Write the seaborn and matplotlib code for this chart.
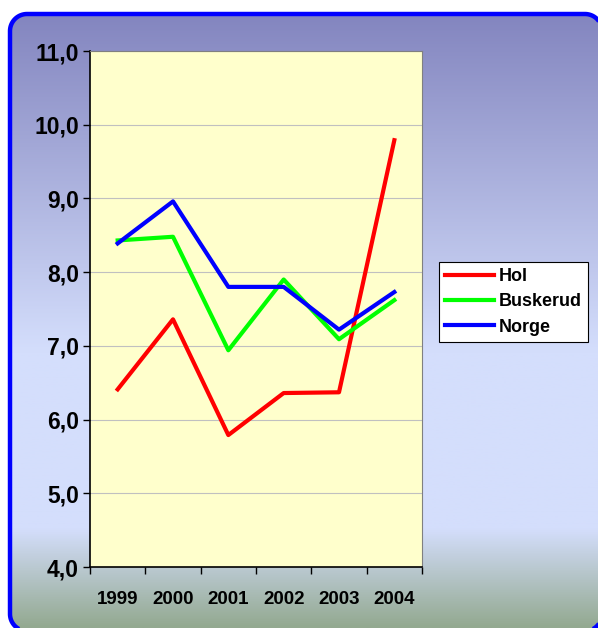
import numpy as np
import pandas as pd
import seaborn as sns
import matplotlib.pyplot as plt
from matplotlib.colors import LinearSegmentedColormap
from matplotlib.patches import Polygon
from matplotlib.ticker import FuncFormatter, FixedLocator

# Chart data
years = ["1999", "2000", "2001", "2002", "2003", "2004"]
hol = [6.41, 7.36, 5.79, 6.36, 6.37, 9.79]
buskerud = [8.43, 8.48, 6.94, 7.90, 7.09, 7.62]
norge = [8.39, 8.96, 7.80, 7.80, 7.22, 7.73]
series_names = ["Hol", "Buskerud", "Norge"]
colors = {"Hol": "#FF0000", "Buskerud": "#00FF00", "Norge": "#0000FF"}

plt.rcParams["font.family"] = ["Liberation Sans", "DejaVu Sans"]
plt.rcParams["font.weight"] = "bold"

# Long form dataframe for seaborn
rows = []
for name, vals in zip(series_names, [hol, buskerud, norge]):
    for i, v in enumerate(vals):
        rows.append({"idx": i, "year": years[i], "value": v, "series": name})
df = pd.DataFrame(rows)


def rounded_rect(x0, y0, x1, y1, r, n=24):
    # outline of a rounded rectangle, pixel coords with y up
    pts = []
    for cx, cy, a0 in [(x1 - r, y1 - r, 0), (x0 + r, y1 - r, 90),
                       (x0 + r, y0 + r, 180), (x1 - r, y0 + r, 270)]:
        t = np.radians(np.linspace(a0, a0 + 90, n))
        pts.append(np.column_stack([cx + r * np.cos(t), cy + r * np.sin(t)]))
    return np.vstack(pts)


W, H = 598, 628
fig = plt.figure(figsize=(W / 100, H / 100), dpi=100)
fig.patch.set_facecolor("white")

# Background rounded box with vertical gradient
bg = fig.add_axes([0, 0, 1, 1])
bg.axis("off")
bg.set_autoscale_on(False)
bg.set_xlim(0, W)
bg.set_ylim(0, H)
cmap = LinearSegmentedColormap.from_list(
    "bgfill",
    [(0.0, "#8385BF"), (0.55, "#D4DEFC"), (0.84, "#D4DEFC"), (1.0, "#93A990")],
)
grad = np.linspace(0, 1, 256).reshape(-1, 1)
im = bg.imshow(grad, cmap=cmap, aspect="auto", extent=(0, W, 0, H - 13),
               origin="upper", zorder=0)
box = Polygon(rounded_rect(10, -3, 602, H - 14, 17), closed=True,
              facecolor="none", edgecolor="#0000FF", linewidth=3.2, zorder=2)
bg.add_patch(box)
im.set_clip_path(box)
bg.set_xlim(0, W)
bg.set_ylim(0, H)

# Main plot area
ax = fig.add_axes([90 / W, 1 - 567 / H, (422 - 90) / W, (567 - 51) / H])
ax.set_facecolor("#FFFFCC")
sns.lineplot(data=df, x="idx", y="value", hue="series", hue_order=series_names,
             palette=colors, linewidth=3, ax=ax, legend=True)

ax.set_xlim(-0.5, 5.5)
ax.set_ylim(4, 11)
ax.set_yticks(np.arange(4, 11.01, 1))
ax.yaxis.set_major_formatter(FuncFormatter(lambda v, p: f"{v:.1f}".replace(".", ",")))
ax.grid(axis="y", color="#C0C0C0", linewidth=0.8)
ax.set_axisbelow(True)

# Category ticks at boundaries, labels at centres
ax.xaxis.set_major_locator(FixedLocator(np.arange(-0.5, 5.6, 1)))
ax.xaxis.set_minor_locator(FixedLocator(np.arange(0, 6, 1)))
ax.set_xticklabels([], minor=False)
ax.set_xticklabels(years, minor=True)
ax.tick_params(axis="x", which="major", length=5, width=1, color="black", direction="out")
ax.tick_params(axis="x", which="minor", length=0, pad=17, labelsize=13.5)
ax.tick_params(axis="y", length=5, width=1, color="black", direction="out", pad=3, labelsize=16.5)
for lab in ax.get_xticklabels(minor=True) + ax.get_yticklabels():
    lab.set_fontweight("bold")

ax.set_xlabel("")
ax.set_ylabel("")
for side in ["top", "right"]:
    ax.spines[side].set_color("#808080")
    ax.spines[side].set_linewidth(0.8)
for side in ["left", "bottom"]:
    ax.spines[side].set_color("black")
    ax.spines[side].set_linewidth(1.2)

handles, labels = ax.get_legend_handles_labels()
ax.get_legend().remove()
leg = fig.legend(handles, labels, loc="upper left",
                 bbox_to_anchor=(439 / W, 1 - 262 / H),
                 frameon=True, fancybox=False, edgecolor="black", facecolor="white",
                 framealpha=1, handlelength=2.7, handletextpad=0.25, labelspacing=0.45,
                 borderpad=0.35, borderaxespad=0, prop={"size": 13, "weight": "bold"})
leg.get_frame().set_linewidth(0.8)
for line in leg.get_lines():
    line.set_linewidth(3)

fig.savefig("out.png", dpi=100)
